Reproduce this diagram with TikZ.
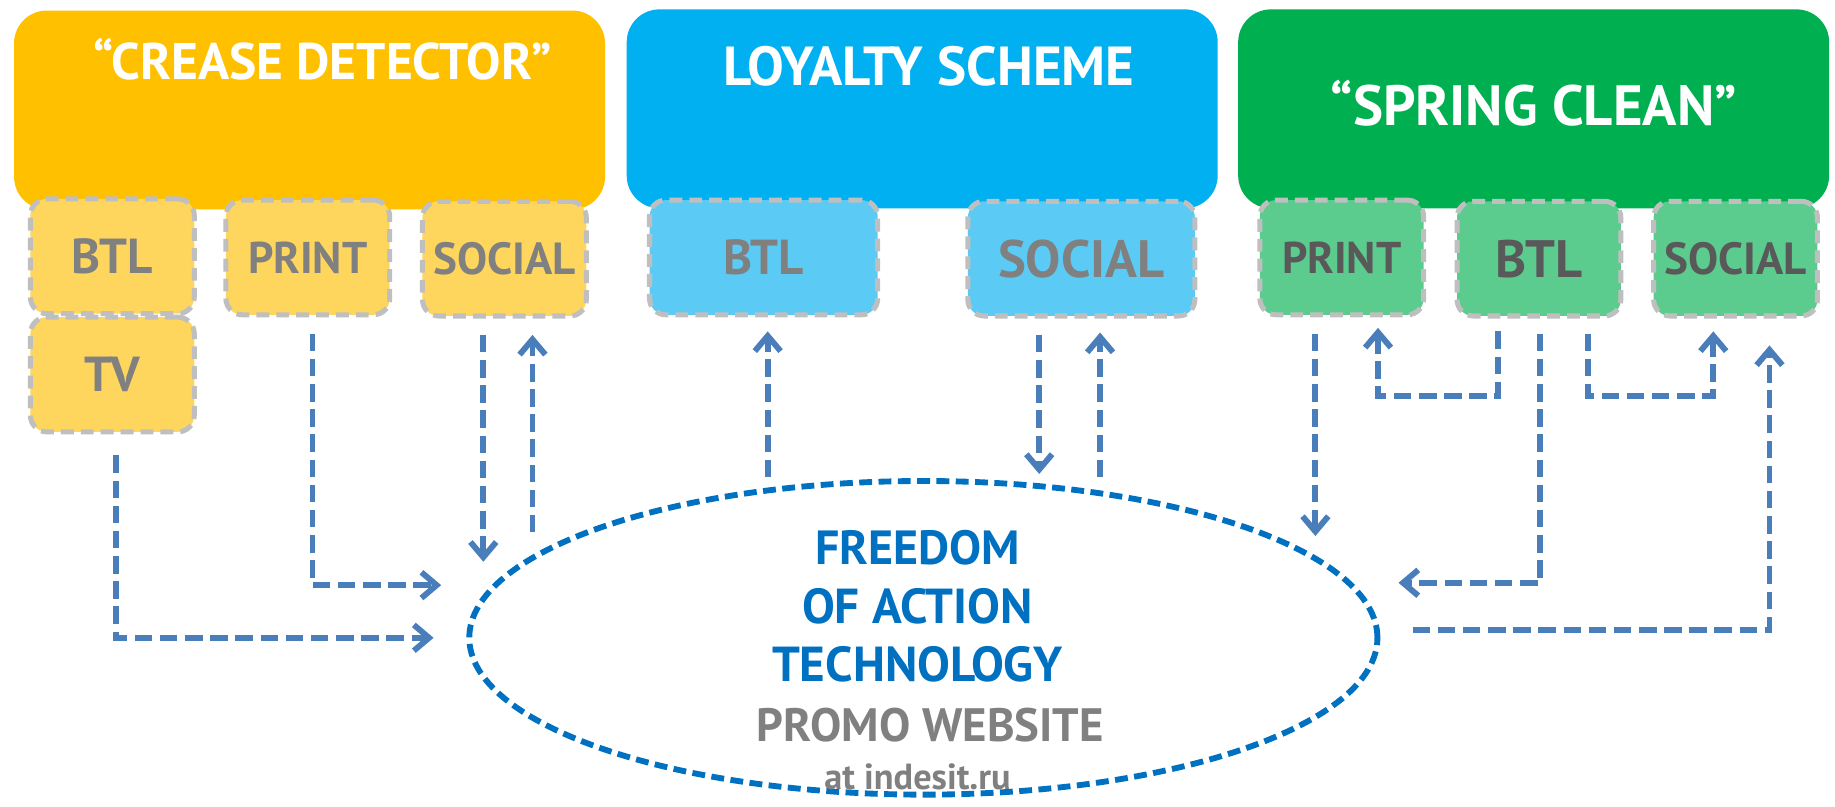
\documentclass[tikz,border=0pt]{standalone}
\usepackage{fontspec}
\setmainfont{PT Sans}
\usetikzlibrary{arrows.meta,positioning,shapes.geometric}
\definecolor{crease}{HTML}{FFC000}
\definecolor{creaselt}{HTML}{FFD65D}
\definecolor{loyal}{HTML}{00B0F0}
\definecolor{loyallt}{HTML}{5BCBF5}
\definecolor{spring}{HTML}{00AF50}
\definecolor{springlt}{HTML}{5BCB8E}
\definecolor{boxedge}{HTML}{BFBFBF}
\definecolor{flowblue}{HTML}{4A7EBB}
\definecolor{promoblue}{HTML}{0070C0}
\definecolor{txtgrey}{HTML}{808080}
\definecolor{txtdark}{HTML}{595959}
\newcommand{\fsz}[1]{\fontsize{#1}{#1}\selectfont}

\begin{document}
\begin{tikzpicture}[
			x=1pt, y=-1pt,
			node distance=50pt, on grid,
			campaign/.style={rounded corners=28pt,minimum width=505pt,minimum height=170pt,inner sep=0pt},
			camptitle/.style={text=white,font=\bfseries\fsz{46}},
			channel/.style={draw=boxedge,line width=4.3pt,dash pattern=on 11pt off 6pt,rounded corners=14pt,minimum width=140pt,minimum height=98pt,inner sep=0pt,text=txtgrey,font=\bfseries\fsz{38}},
			arr/.style={draw=flowblue,line width=5pt,dash pattern=on 15pt off 6.5pt,-{Straight Barb[length=13pt,width=22pt]}},
			promo/.style={font=\bfseries\fsz{42},text=promoblue}
			]
			\useasboundingbox (0,0) rectangle (1568,689);
			% campaigns
			\node[campaign,fill=crease] (crease) at (264.5,94) {};
			\node[campaign,fill=loyal] (loyalty) at (788,93) {};
			\node[campaign,fill=spring] (spring) at (1310.5,93) {};
			\node[camptitle,font=\bfseries\fsz{44},below=42pt of crease.north,anchor=center,xshift=11pt] (creaset) {“CREASE DETECTOR”};
			\node[camptitle,font=\bfseries\fsz{47},below=49pt of loyalty.north,anchor=center,xshift=6pt] (loyaltyt) {LOYALTY SCHEME};
			\node[camptitle,font=\bfseries\fsz{48.5},below=80pt of spring.north,anchor=center] (springt) {“SPRING CLEAN”};
			% channels
			\node[channel,fill=creaselt,font=\bfseries\fsz{42}] (cdbtl) at (96,219) {BTL};
			\node[channel,fill=creaselt,font=\bfseries\fsz{42},below=101pt of cdbtl] (cdtv) {TV};
			\node[channel,fill=creaselt] (cdprint) at (263,220) {PRINT};
			\node[channel,fill=creaselt,font=\bfseries\fsz{38.5}] (cdsocial) at (431,221) {SOCIAL};
			\node[channel,fill=loyallt,minimum width=195pt,font=\bfseries\fsz{42}] (lsbtl) at (652.5,220) {BTL};
			\node[channel,fill=loyallt,minimum width=194pt,font=\bfseries\fsz{45}] (lssocial) at (924,221) {SOCIAL};
			\node[channel,fill=springlt,text=txtdark] (scprint) at (1146.5,220) {PRINT};
			\node[channel,fill=springlt,text=txtdark,font=\bfseries\fsz{45}] (scbtl) at (1315,221) {BTL};
			\node[channel,fill=springlt,text=txtdark,font=\bfseries\fsz{38.5}] (scsocial) at (1483,221) {SOCIAL};
			% promo website
			\node[ellipse,draw=promoblue,line width=5pt,dash pattern=on 11pt off 5.5pt,minimum width=776pt,minimum height=268pt] (site) at (789,545) {};
			\node[promo,font=\bfseries\fsz{41}] (free) at (784,468) {FREEDOM};
			\node[promo,below=of free] (action) {OF ACTION};
			\node[promo,below=of action] (tech) {TECHNOLOGY};
			\node[promo,text=txtgrey,font=\bfseries\fsz{40},below=52pt of tech,xshift=11pt] (web) {PROMO WEBSITE};
			\node[promo,text=txtgrey,font=\bfseries\fsz{31},below=96pt of tech] (url) {at indesit.ru};
			% free ends
			\coordinate (printin) at (377,500);
			\coordinate (socin) at (413,480);
			\coordinate (socout) at (455,455);
			\coordinate (btlout) at (656,408);
			\coordinate (lsocin) at (888,405);
			\coordinate (lsocout) at (940,408);
			\coordinate (sprintin) at (1124,458);
			\coordinate (sbtlin) at (1195,498);
			\coordinate (sout) at (1207,538);
			% flows
			\draw[arr,shorten <=18pt,shorten >=28pt] ([xshift=3pt]cdtv.south) |- (site.west);
			\draw[arr,shorten <=14pt] ([xshift=4pt]cdprint.south) |- (printin);
			\draw[arr,shorten <=14pt] (socin |- cdsocial.south) -- (socin);
			\draw[arr,shorten >=14pt] (socout) -- (socout |- cdsocial.south);
			\draw[arr,shorten >=12pt] (btlout) -- (btlout |- lsbtl.south);
			\draw[arr,shorten <=14pt] (lsocin |- lssocial.south) -- (lsocin);
			\draw[arr,shorten >=12pt] (lsocout) -- (lsocout |- lssocial.south);
			\draw[arr,shorten <=14pt] (sprintin |- scprint.south) -- (sprintin);
			\draw[arr,shorten <=11pt,shorten >=9pt] ([xshift=-35pt]scbtl.south) -- ++(0,66) -| ([xshift=31pt]scprint.south);
			\draw[arr,shorten <=13pt,shorten >=11pt] ([xshift=42pt]scbtl.south) -- ++(0,66) -| ([xshift=-19pt]scsocial.south);
			\draw[arr,shorten <=13pt] ([xshift=1pt]scbtl.south) |- (sbtlin);
			\draw[arr,shorten >=23pt] (sout) -| ([xshift=29pt]scsocial.south);
		\end{tikzpicture}
\end{document}
